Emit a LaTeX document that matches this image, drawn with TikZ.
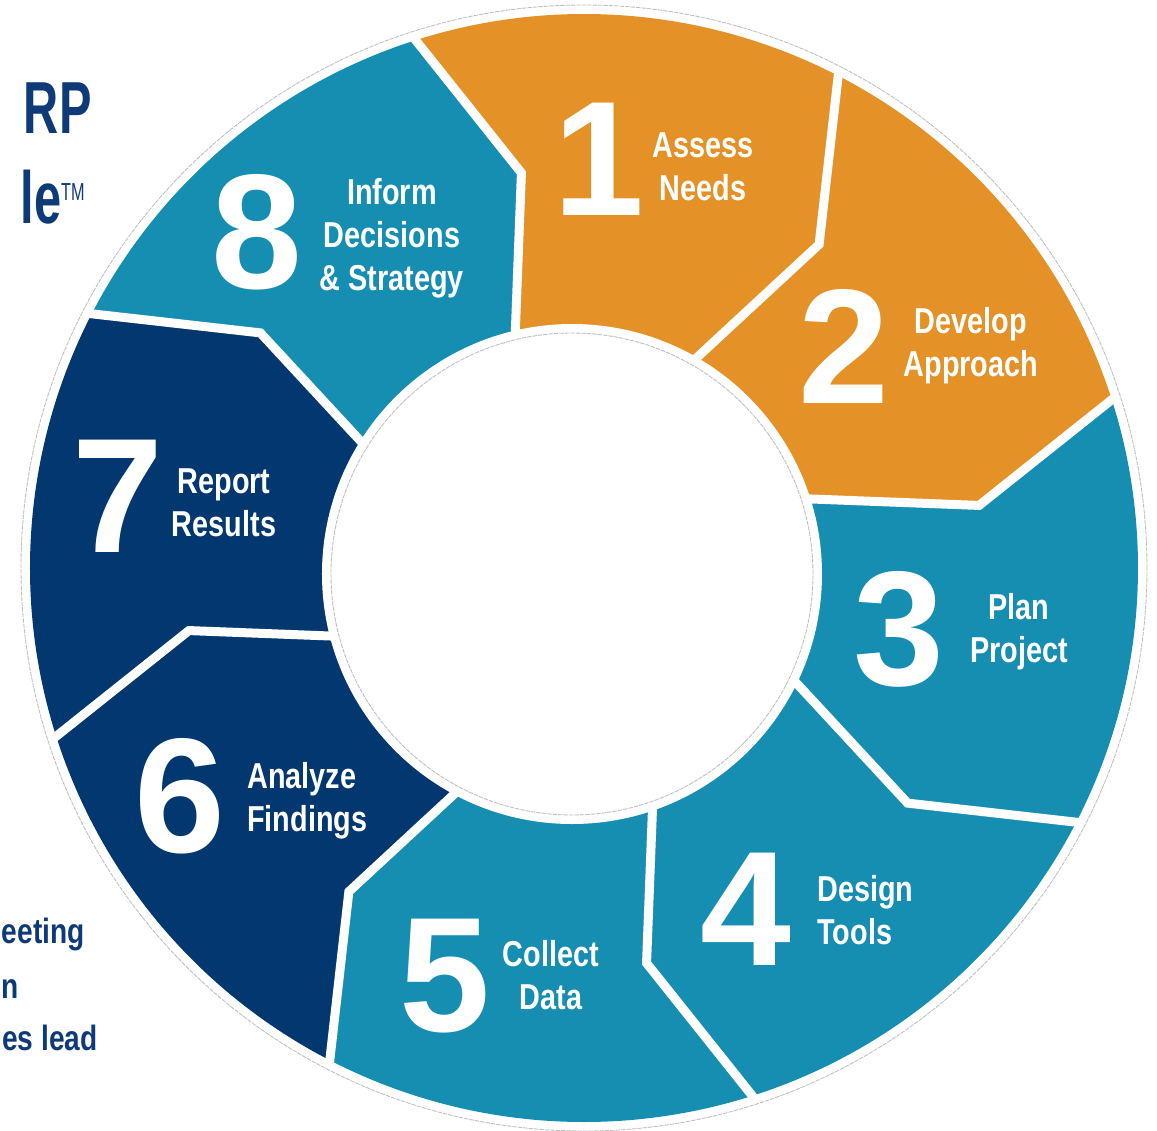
\documentclass[tikz,border=0pt]{standalone}
\usepackage{fontspec}
\setmainfont{Liberation Sans}
\newfontfamily\condfont[FakeStretch=0.8]{Liberation Sans}
\newfontfamily\titlefont[FakeStretch=0.66]{Liberation Sans}
\usepackage{xcolor}
\usepackage{tikz}
\definecolor{cycorange}{RGB}{228,145,39}
\definecolor{cycteal}{RGB}{21,142,178}
\definecolor{cycnavy}{RGB}{3,55,111}
\definecolor{titlenavy}{RGB}{14,58,120}

\begin{document}
\begin{tikzpicture}[x=0.02cm, y=0.02cm,
  stepnum/.style={text=white, inner sep=0pt, font=\fontsize{93}{93}\selectfont\bfseries},
  steplabel/.style={text=white, inner sep=0pt, align=center, font=\condfont\fontsize{20.5}{24.4}\selectfont\bfseries},
  titletext/.style={text=titlenavy, inner sep=0pt, font=\titlefont\fontsize{42}{42}\selectfont\bfseries},
  sidetext/.style={text=titlenavy, inner sep=0pt, font=\condfont\fontsize{20}{30}\selectfont\bfseries},
  gapline/.style={white, line width=0.18cm, line join=miter},
  guide/.style={gray!50, line width=0.5pt, dash pattern=on 2.5pt off 0.6pt}]

  % page: origin at the centre of the outer ring
  \useasboundingbox (-584,-562) rectangle (573,568);
  \clip (-584,-562) rectangle (573,568);

  % ring segments, clockwise from step 1
  \foreach \k/\col in {0/cycorange, 1/cycorange, 2/cycteal, 3/cycteal,
                       4/cycteal, 5/cycnavy, 6/cycnavy, 7/cycteal} {
    \pgfmathsetmacro\a{108-45*\k}
    \pgfmathsetmacro\b{108-45*(\k+1)}
    \pgfmathsetmacro\am{\a-9}
    \pgfmathsetmacro\bm{\b-9}
    \fill[\col] (\a:554) arc[start angle=\a, end angle=\b, radius=554]
      -- (\bm:400) -- (\b:230) -- (\a:230) -- (\am:400) -- cycle;
  }

  % white chevron gaps between the steps
  \foreach \k in {0,...,7} {
    \pgfmathsetmacro\a{108-45*\k}
    \pgfmathsetmacro\am{\a-9}
    \draw[gapline] (\a:562) -- (\am:400) -- (\a:225);
  }

  % hole in the middle and the thin outlines
  \fill[white] (-12,-6) circle[radius=250];
  \draw[guide] (-12,-6) circle[radius=241];
  \draw[guide] (0,0) circle[radius=563];

  % step numbers
  \node[stepnum] (n1) at (15,409) {1};
  \node[stepnum] (n2) at (260,222) {2};
  \node[stepnum] (n3) at (315,-61) {3};
  \node[stepnum] (n4) at (162,-341) {4};
  \node[stepnum] (n5) at (-139,-408) {5};
  \node[stepnum] (n6) at (-404,-228) {6};
  \node[stepnum] (n7) at (-466,72) {7};
  \node[stepnum] (n8) at (-327,336) {8};

  % step labels
  \node[steplabel] (l1) at (119,401) {Assess\\Needs};
  \node[steplabel] (l2) at (387,222) {Develop\\Approach};
  \node[steplabel] (l3) at (435,-64) {Plan\\Project};
  \node[steplabel, anchor=west, align=left] (l4) at (233,-342) {Design\\Tools};
  \node[steplabel] (l5) at (-33,-407) {Collect\\Data};
  \node[steplabel, anchor=west, align=left] (l6) at (-337,-233) {Analyze\\Findings};
  \node[steplabel] (l7) at (-360,65) {Report\\Results};
  \node[steplabel] (l8) at (-192,330) {Inform\\Decisions\\\& Strategy};

  % text fragments at the left edge
  \node[titletext, anchor=east] (ttl1) at (-492,459.5) {RP};
  \node[titletext, anchor=base east] (ttl2) at (-499,345)
    {le\raisebox{13pt}{\fontsize{14}{14}\selectfont\mdseries TM}};
  \node[sidetext, anchor=base east] (side1) at (-499,-375) {eeting};
  \node[sidetext, anchor=base east] (side2) at (-565,-430) {n};
  \node[sidetext, anchor=base east] (side3) at (-486,-482) {es lead};
\end{tikzpicture}
\end{document}
